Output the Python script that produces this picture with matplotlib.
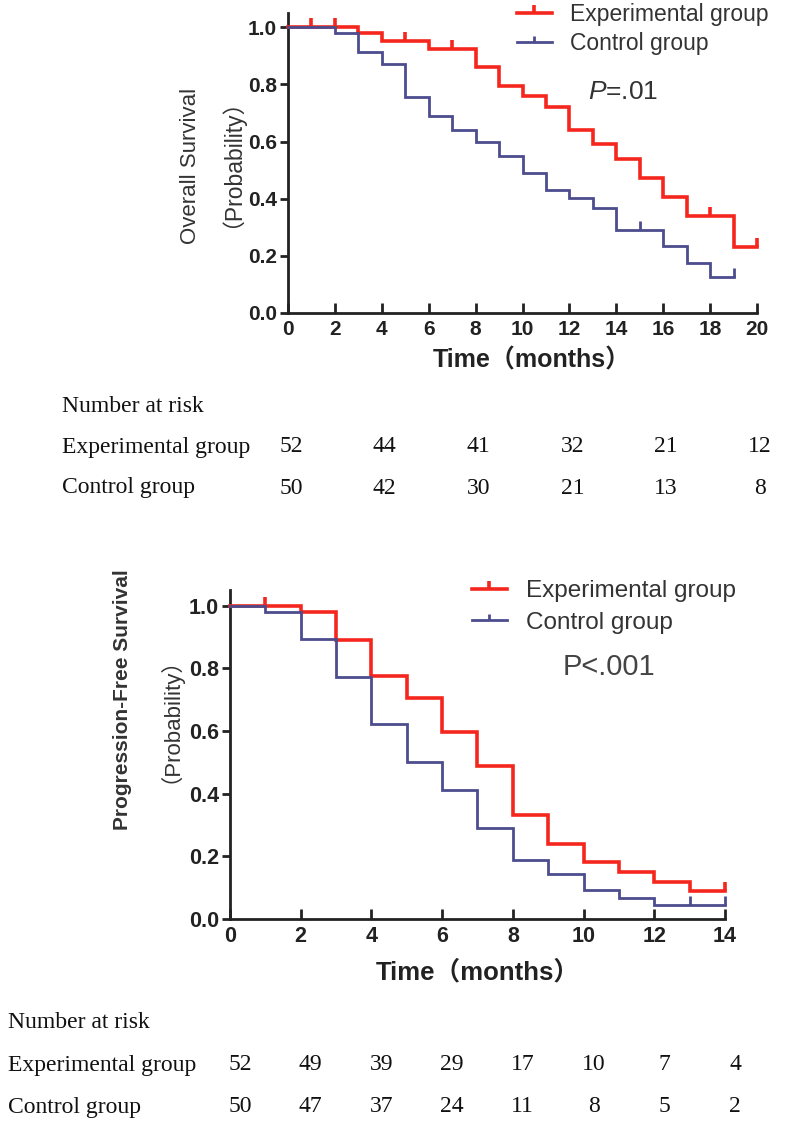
import matplotlib
matplotlib.use("Agg")
import matplotlib.pyplot as plt
import matplotlib.transforms as mtransforms
from matplotlib.lines import Line2D

plt.rcParams['mathtext.fontset'] = 'custom'
plt.rcParams['mathtext.rm'] = 'Liberation Sans'
plt.rcParams['mathtext.it'] = 'Liberation Sans:italic'

SANS = ['Liberation Sans', 'Noto Sans CJK SC', 'DejaVu Sans']
SERIF = ['Liberation Serif', 'DejaVu Serif']
RED = '#f4261e'
BLUE = '#4c4c8e'
AXC = '#222222'

# ---- Overall survival (months, probability after each drop) ----
os_exp_t = [0, 3, 4, 6, 8, 9, 10, 11, 12, 13, 14, 15, 16, 17, 19, 20]
os_exp_s = [1.0, 0.979, 0.953, 0.924, 0.862, 0.796, 0.758, 0.720, 0.639,
            0.592, 0.540, 0.472, 0.406, 0.338, 0.231, 0.231]
os_exp_cens = [1, 2, 5, 7, 18, 20]
os_ctl_t = [0, 2, 3, 4, 5, 6, 7, 8, 9, 10, 11, 12, 13, 14, 16, 17, 18, 19]
os_ctl_s = [1.0, 0.979, 0.913, 0.872, 0.755, 0.688, 0.641, 0.597, 0.548,
            0.490, 0.429, 0.402, 0.367, 0.291, 0.233, 0.175, 0.126, 0.126]
os_ctl_cens = [15, 19]
os_risk_t = [0, 4, 8, 12, 16, 20]
os_risk_exp = [52, 44, 41, 32, 21, 12]
os_risk_ctl = [50, 42, 30, 21, 13, 8]

# ---- Progression-free survival ----
pfs_exp_t = [0, 2, 3, 4, 5, 6, 7, 8, 9, 10, 11, 12, 13, 14]
pfs_exp_s = [1.0, 0.979, 0.891, 0.777, 0.705, 0.596, 0.487, 0.333, 0.240,
             0.181, 0.149, 0.118, 0.088, 0.088]
pfs_exp_cens = [1, 14]
pfs_ctl_t = [0, 1, 2, 3, 4, 5, 6, 7, 8, 9, 10, 11, 12, 14]
pfs_ctl_s = [1.0, 0.979, 0.895, 0.772, 0.623, 0.500, 0.413, 0.290, 0.187,
             0.145, 0.094, 0.067, 0.046, 0.046]
pfs_ctl_cens = [13, 14]
pfs_risk_t = [0, 2, 4, 6, 8, 10, 12, 14]
pfs_risk_exp = [52, 49, 39, 29, 17, 10, 7, 4]
pfs_risk_ctl = [50, 47, 37, 24, 11, 8, 5, 2]

group_names = ['Experimental group', 'Control group']

W, H = 800, 1141
fig = plt.figure(figsize=(W / 100, H / 100), dpi=100)

TICK = [(0, 0), (0, 1)]  # upward censor tick


def fx(px):
    return px / W


def fy(py):
    return 1 - py / H


def surv_at(ts, ss, t):
    v = ss[0]
    for a, b in zip(ts, ss):
        if a <= t:
            v = b
    return v


def km(ax, ts, ss, cens, color, lw):
    ax.step(ts, ss, where='post', color=color, lw=lw, solid_joinstyle='miter',
            clip_on=False, zorder=3)
    ax.plot(cens, [surv_at(ts, ss, c) for c in cens], ls='none', marker=TICK,
            ms=13, mew=lw, color=color, clip_on=False, zorder=3)


def style(ax, xmax, xstep, fs):
    ax.set_xlim(0, xmax)
    ax.set_ylim(0, 1.05)
    for s in ['top', 'right']:
        ax.spines[s].set_visible(False)
    for s in ['left', 'bottom']:
        ax.spines[s].set_linewidth(2)
        ax.spines[s].set_color(AXC)
    ax.set_xticks(range(0, xmax + 1, xstep))
    ax.set_yticks([0, 0.2, 0.4, 0.6, 0.8, 1.0])
    ax.set_yticklabels(['0.0', '0.2', '0.4', '0.6', '0.8', '1.0'])
    ax.tick_params(axis='x', direction='in', length=7, width=2, color=AXC, pad=5)
    ax.tick_params(axis='y', direction='out', length=6, width=2, color=AXC, pad=2)
    for lab in ax.get_xticklabels() + ax.get_yticklabels():
        lab.set_fontfamily(SANS)
        lab.set_fontweight('bold')
        lab.set_fontsize(fs)
        lab.set_color(AXC)


def risk_table(ax, times, exp, ctl, x0, ys, dx):
    off = mtransforms.ScaledTranslation(dx / 100, 0, fig.dpi_scale_trans)
    tr = mtransforms.blended_transform_factory(ax.transData, fig.transFigure) + off
    fig.text(fx(x0), fy(ys[0]), 'Number at risk', family=SERIF, fontsize=17,
             va='center', color='#111')
    for name, vals, y in zip(group_names, [exp, ctl], ys[1:]):
        fig.text(fx(x0), fy(y), name, family=SERIF, fontsize=17, va='center',
                 color='#111')
        for t, v in zip(times, vals):
            ax.text(t, fy(y), str(v), transform=tr, family=SERIF, fontsize=17,
                    ha='center', va='center', color='#111')


def legend(ax, x, y, fs, spacing):
    handles = [Line2D([], [], color=RED, lw=2.6, marker=TICK, ms=11, mew=2.6),
               Line2D([], [], color=BLUE, lw=2, marker=TICK, ms=9, mew=2)]
    ax.legend(handles, group_names, loc='upper left', bbox_to_anchor=(fx(x), fy(y)),
              bbox_transform=fig.transFigure, frameon=False, numpoints=1,
              handlelength=35 / (fs * 1.389), handletextpad=0.8, borderpad=0,
              borderaxespad=0, labelspacing=spacing,
              prop={'family': SANS, 'size': fs}, labelcolor='#333333')


# ---- top panel ----
ax1 = fig.add_axes([fx(288), fy(313), fx(757 - 288), (313 - 13) / H])
km(ax1, os_exp_t, os_exp_s, os_exp_cens, RED, 2.6)
km(ax1, os_ctl_t, os_ctl_s, os_ctl_cens, BLUE, 2.0)
style(ax1, 20, 2, 15)
legend(ax1, 517, 3, 16.5, 0.25)
fig.text(fx(588), fy(92), r'$\mathit{P}$=.01', family=SANS, fontsize=19,
         va='center', color='#333333')
fig.text(fx(191), fy(166), 'Overall Survival', family=SANS, fontsize=16,
         rotation=90, ha='center', va='center', color='#333333')
fig.text(fx(220), fy(152), '（Probability）', family=SANS, fontsize=16.5,
         rotation=90, ha='center', va='center', color='#333333')
fig.text(fx(532), fy(360), 'Time（months）', family=SANS, fontsize=18,
         fontweight='bold', ha='center', va='center', color=AXC)
risk_table(ax1, os_risk_t, os_risk_exp, os_risk_ctl, 62, [407, 447, 488], 3)

# ---- bottom panel ----
ax2 = fig.add_axes([fx(230), fy(919), fx(725 - 230), (919 - 590) / H])
km(ax2, pfs_exp_t, pfs_exp_s, pfs_exp_cens, RED, 2.6)
km(ax2, pfs_ctl_t, pfs_ctl_s, pfs_ctl_cens, BLUE, 2.0)
style(ax2, 14, 2, 15.5)
legend(ax2, 472, 580, 17.5, 0.4)
fig.text(fx(563), fy(667), 'P<.001', family=SANS, fontsize=21,
         va='center', color='#444444')
fig.text(fx(123), fy(700), 'Progression-Free Survival', family=SANS, fontsize=15,
         fontweight='bold', rotation=90, ha='center', va='center', color='#333333')
fig.text(fx(158), fy(709), '（Probability）', family=SANS, fontsize=16,
         rotation=90, ha='center', va='center', color='#333333')
fig.text(fx(478), fy(972), 'Time（months）', family=SANS, fontsize=18.5,
         fontweight='bold', ha='center', va='center', color=AXC)
risk_table(ax2, pfs_risk_t, pfs_risk_exp, pfs_risk_ctl, 8, [1023, 1065, 1107], 10)

fig.savefig('out.png', dpi=100)
